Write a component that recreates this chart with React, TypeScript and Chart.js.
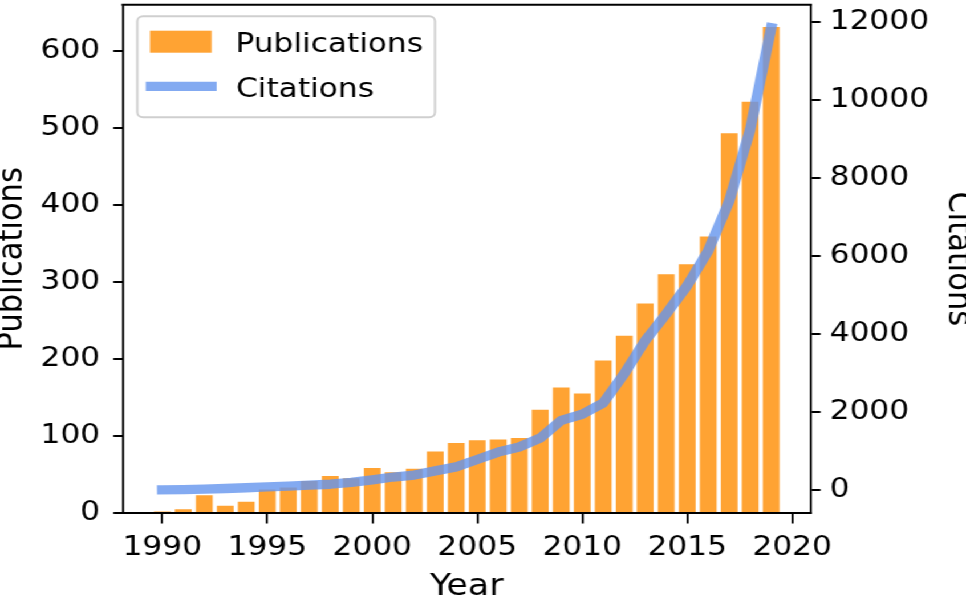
import React, { useEffect, useRef } from "react";
import { Chart, registerables } from "chart.js";

Chart.register(...registerables);

const years = [
  1990, 1991, 1992, 1993, 1994, 1995, 1996, 1997, 1998, 1999,
  2000, 2001, 2002, 2003, 2004, 2005, 2006, 2007, 2008, 2009,
  2010, 2011, 2012, 2013, 2014, 2015, 2016, 2017, 2018, 2019,
];
const publications = [
  2, 5, 23, 9.5, 14.5, 30.5, 33, 41.5, 48, 45,
  58.5, 53, 57.5, 80, 91, 94.5, 95.5, 97.5, 134, 163,
  155, 198, 230, 272, 310, 323, 359, 493, 534, 631,
];
const citations = [
  5, 12, 25, 40, 60, 82, 100, 125, 150, 195,
  262, 335, 385, 492, 595, 785, 975, 1105, 1335, 1790,
  1945, 2235, 2985, 3835, 4520, 5245, 6140, 7415, 9250, 11860,
];

const yearTicks = [1990, 1995, 2000, 2005, 2010, 2015, 2020];
const publicationTicks = [0, 100, 200, 300, 400, 500, 600];
const citationTicks = [0, 2000, 4000, 6000, 8000, 10000, 12000];

const seriesLabels = ["Publications", "Citations"];
const axisTitles = { x: "Year", y: "Publications", y1: "Citations" };

const BASE_W = 847;
const BASE_H = 601;
const STRETCH = 966 / BASE_W;
const FONT = "'DejaVu Sans', sans-serif";
const BAR_COLOR = "rgba(255,140,0,0.8)";
const LINE_COLOR = "rgba(100,149,237,0.8)";

const fmt = (v: number | string) => String(v);
const setTicks = (values: number[]) => (s: any) => {
  s.ticks = values.map((value) => ({ value }));
};

const framePlugin = {
  id: "frameLegend",
  afterDraw(chart: any) {
    const { ctx, chartArea: a } = chart;
    ctx.save();
    // top spine
    ctx.strokeStyle = "#000";
    ctx.lineWidth = 2;
    ctx.beginPath();
    ctx.moveTo(a.left - 1, a.top);
    ctx.lineTo(a.right + 1, a.top);
    ctx.stroke();

    // legend frame
    const lx0 = 120.4, lx1 = 381.4, ly0 = 16.2, ly1 = 117.3;
    ctx.beginPath();
    (ctx as any).roundRect(lx0, ly0, lx1 - lx0, ly1 - ly0, 5);
    ctx.fillStyle = "rgba(255,255,255,0.8)";
    ctx.fill();
    ctx.strokeStyle = "#cfcfcf";
    ctx.lineWidth = 2;
    ctx.stroke();

    const ds = chart.data.datasets;
    // bar handle
    ctx.fillStyle = ds[0].backgroundColor;
    ctx.fillRect(131.5, 30.7, 54.1, 22);
    // line handle
    ctx.strokeStyle = ds[1].borderColor;
    ctx.lineWidth = 9.3;
    ctx.lineCap = "butt";
    ctx.beginPath();
    ctx.moveTo(127.8, 86.3);
    ctx.lineTo(190, 86.3);
    ctx.stroke();

    ctx.fillStyle = "#000";
    ctx.font = `27.4px ${FONT}`;
    ctx.textBaseline = "alphabetic";
    ctx.textAlign = "left";
    ctx.fillText(ds[0].label, 206.4, 51.7);
    ctx.fillText(ds[1].label, 206.9, 97.3);
    ctx.restore();
  },
};

export default function App() {
  const canvasRef = useRef<HTMLCanvasElement | null>(null);

  useEffect(() => {
    document.body.style.overflow = "hidden";
    const canvas = canvasRef.current;
    if (!canvas) return;

    const tickFont = { family: FONT, size: 27.4 };
    const titleFont = { family: FONT, size: 30.5, lineHeight: 1 };

    const chart = new Chart(canvas, {
      type: "bar",
      data: {
        datasets: [
          {
            type: "bar",
            label: seriesLabels[0],
            data: years.map((x, i) => ({ x, y: publications[i] })),
            backgroundColor: BAR_COLOR,
            borderWidth: 0,
            barPercentage: 0.8,
            categoryPercentage: 1,
            xAxisID: "x",
            yAxisID: "y",
            order: 2,
          } as any,
          {
            type: "line",
            label: seriesLabels[1],
            data: years.map((x, i) => ({ x, y: citations[i] })),
            borderColor: LINE_COLOR,
            backgroundColor: LINE_COLOR,
            borderWidth: 9.3,
            pointRadius: 0,
            tension: 0,
            fill: false,
            borderCapStyle: "square",
            borderJoinStyle: "round",
            xAxisID: "x",
            yAxisID: "y1",
            order: 1,
          } as any,
        ],
      },
      options: {
        animation: false,
        responsive: true,
        maintainAspectRatio: false,
        layout: { padding: { top: 3, left: 0, right: 0, bottom: 0 } },
        plugins: {
          legend: { display: false },
          tooltip: { enabled: false },
        },
        scales: {
          x: {
            type: "linear",
            min: 1988.11,
            max: 2020.89,
            offset: false,
            grid: {
              offset: false,
              drawOnChartArea: false,
              drawTicks: true,
              tickLength: 10.5,
              color: "#000",
              lineWidth: 1.8,
            },
            border: { display: true, color: "#000", width: 2 },
            afterBuildTicks: setTicks(yearTicks),
            ticks: {
              autoSkip: false,
              maxRotation: 0,
              minRotation: 0,
              color: "#000",
              font: tickFont,
              padding: 7.5,
              callback: fmt,
            },
            title: {
              display: true,
              text: axisTitles.x,
              color: "#000",
              font: titleFont,
              padding: { top: 0, bottom: -1.75 },
            },
            afterFit(s: any) {
              s.height = 88;
              s.paddingLeft = 0;
              s.paddingRight = 0;
            },
          } as any,
          y: {
            type: "linear",
            position: "left",
            min: 0,
            max: 660,
            grid: {
              drawOnChartArea: false,
              drawTicks: true,
              tickLength: 8.2,
              color: "#000",
              lineWidth: 2,
            },
            border: { display: true, color: "#000", width: 1.8 },
            afterBuildTicks: setTicks(publicationTicks),
            ticks: {
              autoSkip: false,
              color: "#000",
              font: tickFont,
              padding: 11.5,
              callback: fmt,
            },
            title: {
              display: true,
              text: axisTitles.y,
              color: "#000",
              font: titleFont,
              padding: { top: -3.75, bottom: 0 },
            },
            afterFit(s: any) {
              s.width = 107.5;
              s.paddingTop = 0;
              s.paddingBottom = 0;
            },
          } as any,
          y1: {
            type: "linear",
            position: "right",
            min: -588,
            max: 12453,
            grid: {
              drawOnChartArea: false,
              drawTicks: true,
              tickLength: 8.5,
              color: "#000",
              lineWidth: 2,
            },
            border: { display: true, color: "#000", width: 1.8 },
            afterBuildTicks: setTicks(citationTicks),
            ticks: {
              autoSkip: false,
              color: "#000",
              font: tickFont,
              padding: 8,
              callback: fmt,
            },
            title: {
              display: true,
              text: axisTitles.y1,
              color: "#000",
              font: titleFont,
              padding: { top: -7.75, bottom: 0 },
            },
            afterFit(s: any) {
              s.width = 136;
              s.paddingTop = 0;
              s.paddingBottom = 0;
            },
          } as any,
        },
      },
      plugins: [framePlugin as any],
    });

    return () => {
      chart.destroy();
    };
  }, []);

  return (
    <div
      style={{
        position: "absolute",
        left: 0,
        top: 0,
        width: BASE_W,
        height: BASE_H,
        transform: `scaleX(${STRETCH})`,
        transformOrigin: "0 0",
        background: "#fff",
      }}
    >
      <canvas ref={canvasRef} />
    </div>
  );
}
